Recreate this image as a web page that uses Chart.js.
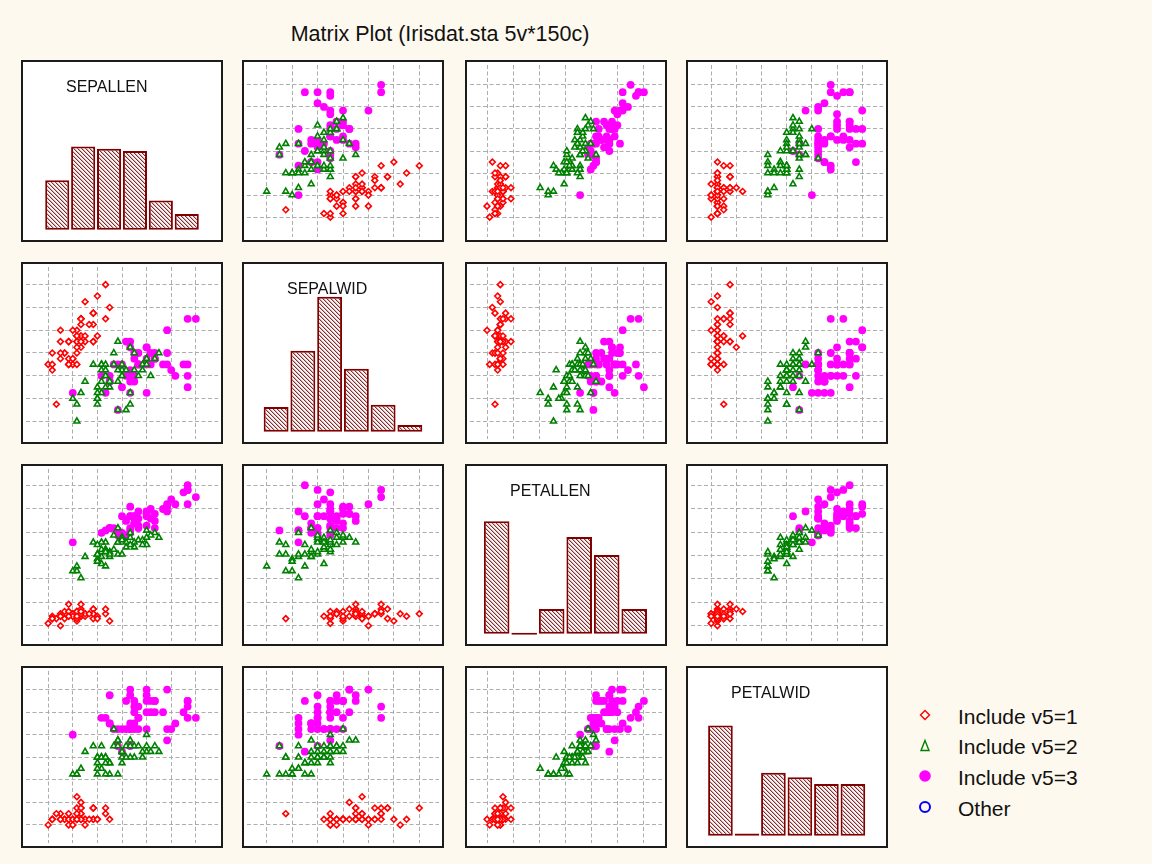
<!DOCTYPE html>
<html>
<head>
<meta charset="utf-8">
<title>Matrix Plot (Irisdat.sta 5v*150c)</title>
<script src="https://cdn.jsdelivr.net/npm/chart.js@4.4.1/dist/chart.umd.min.js"></script>
<style>
  html, body { margin: 0; padding: 0; background: #fef9ee; }
  body { width: 1152px; height: 864px; position: relative; overflow: hidden;
         font-family: "Liberation Sans", Arial, sans-serif; color: #111; }
  canvas.panel { position: absolute; }
  #title { position: absolute; left: 0; width: 880px; top: 24px; text-align: center;
           font-size: 21.5px; line-height: 21.5px; white-space: nowrap; }
  .legend-text { position: absolute; left: 958px; font-size: 21px; line-height: 21px; white-space: nowrap; }
  #legend-marks { position: absolute; left: 905px; top: 700px; }
</style>
</head>
<body>
<div id="title">Matrix Plot (Irisdat.sta 5v*150c)</div>
<div id="grid"></div>
<svg id="legend-marks" width="40" height="120" viewBox="905 700 40 120">
  <polygon points="925,710.5 929.5,715 925,719.5 920.5,715" fill="none" stroke="#ff0000" stroke-width="1.4"/>
  <polygon points="925,740.5 929,750.5 921,750.5" fill="none" stroke="#008000" stroke-width="1.4"/>
  <circle cx="925" cy="776" r="5.8" fill="#ff00ff"/>
  <circle cx="925" cy="807" r="5" fill="none" stroke="#0000ff" stroke-width="2"/>
</svg>
<div class="legend-text" id="lg0" style="top:705.5px"></div>
<div class="legend-text" id="lg1" style="top:736px"></div>
<div class="legend-text" id="lg2" style="top:766.5px"></div>
<div class="legend-text" id="lg3" style="top:797.5px"></div>

<script>
// Variables of the matrix, in row/column order
const varNames = ['SEPALLEN', 'SEPALWID', 'PETALLEN', 'PETALWID'];
const groupLabels = ['Include v5=1', 'Include v5=2', 'Include v5=3', 'Other'];

// Group v5=1
const sepallen1 = [5.1,4.9,4.7,4.6,5.0,5.4,4.6,5.0,4.4,4.9,5.4,4.8,4.8,4.3,5.8,5.7,5.4,5.1,5.7,5.1,5.4,5.1,4.6,5.1,4.8,5.0,5.0,5.2,5.2,4.7,4.8,5.4,5.2,5.5,4.9,5.0,5.5,4.9,4.4,5.1,5.0,4.5,4.4,5.0,5.1,4.8,5.1,4.6,5.3,5.0];
const sepalwid1 = [3.5,3.0,3.2,3.1,3.6,3.9,3.4,3.4,2.9,3.1,3.7,3.4,3.0,3.0,4.0,4.4,3.9,3.5,3.8,3.8,3.4,3.7,3.6,3.3,3.4,3.0,3.4,3.5,3.4,3.2,3.1,3.4,4.1,4.2,3.1,3.2,3.5,3.6,3.0,3.4,3.5,2.3,3.2,3.5,3.8,3.0,3.8,3.2,3.7,3.3];
const petallen1 = [1.4,1.4,1.3,1.5,1.4,1.7,1.4,1.5,1.4,1.5,1.5,1.6,1.4,1.1,1.2,1.5,1.3,1.4,1.7,1.5,1.7,1.5,1.0,1.7,1.9,1.6,1.6,1.5,1.4,1.6,1.6,1.5,1.5,1.4,1.5,1.2,1.3,1.4,1.3,1.5,1.3,1.3,1.3,1.6,1.9,1.4,1.6,1.4,1.5,1.4];
const petalwid1 = [0.2,0.2,0.2,0.2,0.2,0.4,0.3,0.2,0.2,0.1,0.2,0.2,0.1,0.1,0.2,0.4,0.4,0.3,0.3,0.3,0.2,0.4,0.2,0.5,0.2,0.2,0.4,0.2,0.2,0.2,0.2,0.4,0.1,0.2,0.2,0.2,0.2,0.1,0.2,0.2,0.3,0.3,0.2,0.6,0.4,0.3,0.2,0.2,0.2,0.2];

// Group v5=2
const sepallen2 = [7.0,6.4,6.9,5.5,6.5,5.7,6.3,4.9,6.6,5.2,5.0,5.9,6.0,6.1,5.6,6.7,5.6,5.8,6.2,5.6,5.9,6.1,6.3,6.1,6.4,6.6,6.8,6.7,6.0,5.7,5.5,5.5,5.8,6.0,5.4,6.0,6.7,6.3,5.6,5.5,5.5,6.1,5.8,5.0,5.6,5.7,5.7,6.2,5.1,5.7];
const sepalwid2 = [3.2,3.2,3.1,2.3,2.8,2.8,3.3,2.4,2.9,2.7,2.0,3.0,2.2,2.9,2.9,3.1,3.0,2.7,2.2,2.5,3.2,2.8,2.5,2.8,2.9,3.0,2.8,3.0,2.9,2.6,2.4,2.4,2.7,2.7,3.0,3.4,3.1,2.3,3.0,2.5,2.6,3.0,2.6,2.3,2.7,3.0,2.9,2.9,2.5,2.8];
const petallen2 = [4.7,4.5,4.9,4.0,4.6,4.5,4.7,3.3,4.6,3.9,3.5,4.2,4.0,4.7,3.6,4.4,4.5,4.1,4.5,3.9,4.8,4.0,4.9,4.7,4.3,4.4,4.8,5.0,4.5,3.5,3.8,3.7,3.9,5.1,4.5,4.5,4.7,4.4,4.1,4.0,4.4,4.6,4.0,3.3,4.2,4.2,4.2,4.3,3.0,4.1];
const petalwid2 = [1.4,1.5,1.5,1.3,1.5,1.3,1.6,1.0,1.3,1.4,1.0,1.5,1.0,1.4,1.3,1.4,1.5,1.0,1.5,1.1,1.8,1.3,1.5,1.2,1.3,1.4,1.4,1.7,1.5,1.0,1.1,1.0,1.2,1.6,1.5,1.6,1.5,1.3,1.3,1.3,1.2,1.4,1.2,1.0,1.3,1.2,1.3,1.3,1.1,1.3];

// Group v5=3
const sepallen3 = [6.3,5.8,7.1,6.3,6.5,7.6,4.9,7.3,6.7,7.2,6.5,6.4,6.8,5.7,5.8,6.4,6.5,7.7,7.7,6.0,6.9,5.6,7.7,6.3,6.7,7.2,6.2,6.1,6.4,7.2,7.4,7.9,6.4,6.3,6.1,7.7,6.3,6.4,6.0,6.9,6.7,6.9,5.8,6.8,6.7,6.7,6.3,6.5,6.2,5.9];
const sepalwid3 = [3.3,2.7,3.0,2.9,3.0,3.0,2.5,2.9,2.5,3.6,3.2,2.7,3.0,2.5,2.8,3.2,3.0,3.8,2.6,2.2,3.2,2.8,2.8,2.7,3.3,3.2,2.8,3.0,2.8,3.0,2.8,3.8,2.8,2.8,2.6,3.0,3.4,3.1,3.0,3.1,3.1,3.1,2.7,3.2,3.3,3.0,2.5,3.0,3.4,3.0];
const petallen3 = [6.0,5.1,5.9,5.6,5.8,6.6,4.5,6.3,5.8,6.1,5.1,5.3,5.5,5.0,5.1,5.3,5.5,6.7,6.9,5.0,5.7,4.9,6.7,4.9,5.7,6.0,4.8,4.9,5.6,5.8,6.1,6.4,5.6,5.1,5.6,6.1,5.6,5.5,4.8,5.4,5.6,5.1,5.1,5.9,5.7,5.2,5.0,5.2,5.4,5.1];
const petalwid3 = [2.5,1.9,2.1,1.8,2.2,2.1,1.7,1.8,1.8,2.5,2.0,1.9,2.1,2.0,2.4,2.3,1.8,2.2,2.3,1.5,2.3,2.0,2.0,1.8,2.1,1.8,1.8,1.8,2.1,1.6,1.9,2.0,2.2,1.5,1.4,2.3,2.4,1.8,1.8,2.1,2.4,2.3,1.9,2.3,2.5,2.3,1.9,2.0,2.3,1.8];

// Histogram counts on the diagonal (6 intervals each)
const histSepallen = [22, 37, 36, 35, 13, 7];
const histSepalwid = [11, 36, 60, 28, 12, 3];
const histPetallen = [50, 0, 11, 43, 35, 11];
const histPetalwid = [49, 1, 28, 26, 23, 23];

// Interval range of each variable and the extent of its axis
const rangeLow  = [4.3, 2.0, 1.0, 0.1];
const rangeHigh = [7.9, 4.4, 6.9, 2.5];
const axisLow   = [3.76, 1.69, 0.36, -0.22];
const axisHigh  = [8.44, 4.71, 7.58, 2.83];
const countAxis = [-5.5, 75.4];

const groupsByVar = [
  [sepallen1, sepallen2, sepallen3],
  [sepalwid1, sepalwid2, sepalwid3],
  [petallen1, petallen2, petallen3],
  [petalwid1, petalwid2, petalwid3]
];
const histByVar = [histSepallen, histSepalwid, histPetallen, histPetalwid];

// Panel layout
const panelLeft = [21, 242, 465, 686];
const panelTop = [60, 262, 464, 666];
const panelW = 202, panelH = 182;
const NBINS = 6;

function intervalEdges(v) {
  const step = (rangeHigh[v] - rangeLow[v]) / NBINS;
  const out = [];
  for (let k = 0; k <= NBINS; k++) out.push(rangeLow[v] + k * step);
  return out;
}

// White plot face and black frame around each panel
const framePlugin = {
  id: 'frame',
  beforeDraw(chart) {
    const { ctx, width, height } = chart;
    ctx.save();
    ctx.fillStyle = '#ffffff';
    ctx.fillRect(0, 0, width, height);
    ctx.restore();
  },
  afterDraw(chart) {
    const { ctx, width, height } = chart;
    ctx.save();
    ctx.strokeStyle = '#1c1c1c';
    ctx.lineWidth = 2;
    ctx.strokeRect(1, 1, width - 2, height - 2);
    ctx.restore();
  }
};

// Variable name written inside a histogram panel
const nameLabelPlugin = {
  id: 'nameLabel',
  afterDatasetsDraw(chart, args, opts) {
    if (!opts || !opts.text) return;
    const ctx = chart.ctx;
    ctx.save();
    ctx.font = '16px "Liberation Sans", Arial, sans-serif';
    ctx.fillStyle = '#111111';
    ctx.textAlign = 'left';
    ctx.textBaseline = 'alphabetic';
    ctx.fillText(opts.text, 45, 32);
    ctx.restore();
  }
};

// Diagonal hatch used to fill the histogram bars
function hatchPattern(ctx) {
  const c = document.createElement('canvas');
  c.width = 4; c.height = 4;
  const g = c.getContext('2d');
  g.fillStyle = '#fbf4f4';
  g.fillRect(0, 0, 4, 4);
  for (let i = 0; i < 4; i++) {
    g.fillStyle = '#7e3030';
    g.fillRect(i, i, 1, 1);
    g.fillStyle = '#d9b3b3';
    g.fillRect((i + 1) % 4, i, 1, 1);
  }
  return ctx.createPattern(c, 'repeat');
}

function makeCanvas(r, c) {
  const cv = document.createElement('canvas');
  cv.className = 'panel';
  cv.width = panelW; cv.height = panelH;
  cv.style.left = panelLeft[c] + 'px';
  cv.style.top = panelTop[r] + 'px';
  cv.style.width = panelW + 'px';
  cv.style.height = panelH + 'px';
  document.getElementById('grid').appendChild(cv);
  return cv;
}

function gridAxis(v) {
  const edges = intervalEdges(v);
  return {
    type: 'linear',
    min: axisLow[v],
    max: axisHigh[v],
    offset: false,
    afterBuildTicks(scale) { scale.ticks = edges.map(value => ({ value })); },
    ticks: { display: false },
    grid: { color: '#adadad', lineWidth: 1, drawTicks: false, offset: false },
    border: { display: false, dash: [4, 2.5] }
  };
}

const markerStyles = [
  { pointStyle: 'rectRot', pointRadius: 2.9, borderColor: '#ff0000', backgroundColor: '#ffffff', borderWidth: 1.6 },
  { pointStyle: 'triangle', pointRadius: 3.4, borderColor: '#008000', backgroundColor: '#ffffff', borderWidth: 1.6 },
  { pointStyle: 'circle', pointRadius: 3.9, borderColor: '#ff00ff', backgroundColor: '#ff00ff', borderWidth: 0 }
];

function scatterPanel(r, c) {
  const cv = makeCanvas(r, c);
  const datasets = [0, 1, 2].map(g => {
    const xs = groupsByVar[c][g];
    const ys = groupsByVar[r][g];
    return Object.assign({
      label: groupLabels[g],
      data: xs.map((x, i) => ({ x, y: ys[i] })),
      pointHoverRadius: 0
    }, markerStyles[g]);
  });
  new Chart(cv, {
    type: 'scatter',
    data: { datasets },
    options: {
      responsive: false, animation: false, events: [], devicePixelRatio: 1,
      layout: { padding: 0 },
      plugins: { legend: { display: false }, tooltip: { enabled: false } },
      scales: { x: gridAxis(c), y: gridAxis(r) }
    },
    plugins: [framePlugin]
  });
}

function histogramPanel(v) {
  const cv = makeCanvas(v, v);
  const edges = intervalEdges(v);
  const counts = histByVar[v];
  const pattern = hatchPattern(cv.getContext('2d'));
  new Chart(cv, {
    type: 'bar',
    data: {
      datasets: [{
        data: counts.map((n, i) => ({ x: (edges[i] + edges[i + 1]) / 2, y: n })),
        backgroundColor: pattern,
        borderColor: '#800000',
        borderWidth: 2,
        borderSkipped: false,
        barPercentage: 1,
        categoryPercentage: 0.93,
        minBarLength: 2
      }]
    },
    options: {
      responsive: false, animation: false, events: [], devicePixelRatio: 1,
      layout: { padding: 0 },
      plugins: {
        legend: { display: false }, tooltip: { enabled: false },
        nameLabel: { text: varNames[v] }
      },
      scales: {
        x: { type: 'linear', display: false, offset: false, min: axisLow[v], max: axisHigh[v] },
        y: { type: 'linear', display: false, min: countAxis[0], max: countAxis[1] }
      }
    },
    plugins: [framePlugin, nameLabelPlugin]
  });
}

for (let r = 0; r < 4; r++) {
  for (let c = 0; c < 4; c++) {
    if (r === c) histogramPanel(r); else scatterPanel(r, c);
  }
}

groupLabels.forEach((t, i) => { document.getElementById('lg' + i).textContent = t; });
</script>
</body>
</html>
